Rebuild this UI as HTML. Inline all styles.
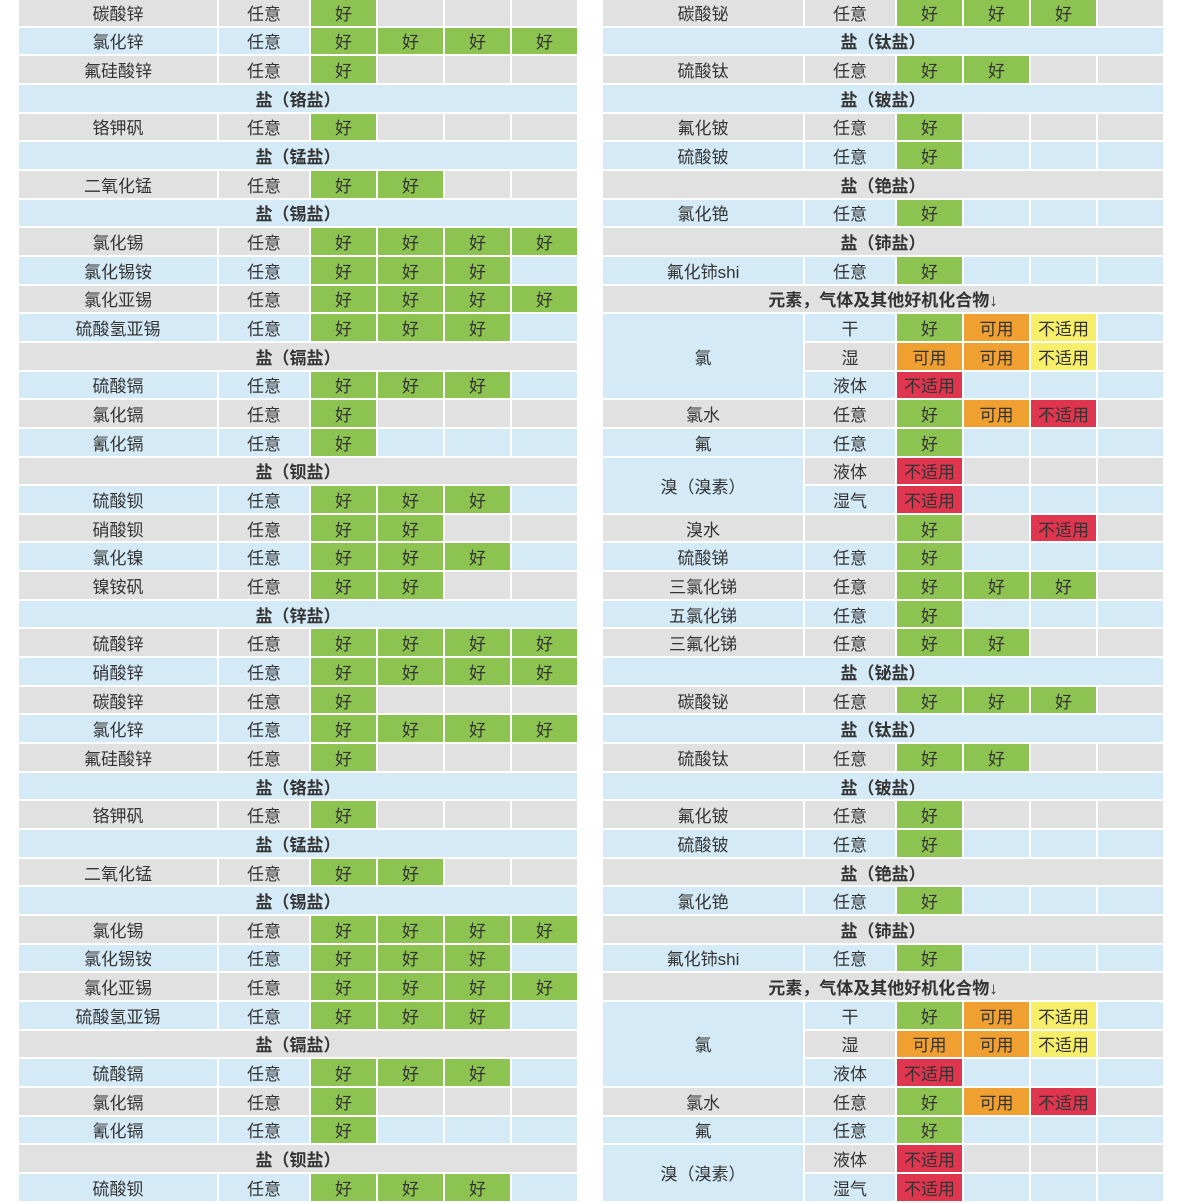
<!DOCTYPE html>
<html><head><meta charset="utf-8"><style>
html,body{margin:0;padding:0;background:#fff;width:1199px;height:1203px;overflow:hidden;position:relative}
.t{position:absolute;top:-1px;display:grid;grid-auto-rows:26.66px;gap:2px;font-family:"Liberation Sans","Noto Sans CJK SC",sans-serif;font-size:17px;color:#333}
#L{left:19px;grid-template-columns:198px 90px 65px 65px 65px 65px}
#R{left:603px;grid-template-columns:200px 90px 65px 65px 65px 65px}
.t div{display:flex;align-items:center;justify-content:center;white-space:nowrap}
.g{background:#e1e1e2}.b{background:#d4eaf7}
.t div.G{background:#8dc350}.t div.O{background:#f0a030}.t div.Y{background:#f7ee6a}.t div.R{background:#e0354e}
.t div.h{grid-column:1/-1;font-weight:bold}
.s3{grid-row:span 3}.s2{grid-row:span 2}
</style></head><body>
<div class="t" id="L">
<div class="g">碳酸锌</div><div class="g">任意</div><div class="G">好</div><div class="g"></div><div class="g"></div><div class="g"></div>
<div class="b">氯化锌</div><div class="b">任意</div><div class="G">好</div><div class="G">好</div><div class="G">好</div><div class="G">好</div>
<div class="g">氟硅酸锌</div><div class="g">任意</div><div class="G">好</div><div class="g"></div><div class="g"></div><div class="g"></div>
<div class="b h">盐（铬盐）</div>
<div class="g">铬钾矾</div><div class="g">任意</div><div class="G">好</div><div class="g"></div><div class="g"></div><div class="g"></div>
<div class="b h">盐（锰盐）</div>
<div class="g">二氧化锰</div><div class="g">任意</div><div class="G">好</div><div class="G">好</div><div class="g"></div><div class="g"></div>
<div class="b h">盐（锡盐）</div>
<div class="g">氯化锡</div><div class="g">任意</div><div class="G">好</div><div class="G">好</div><div class="G">好</div><div class="G">好</div>
<div class="b">氯化锡铵</div><div class="b">任意</div><div class="G">好</div><div class="G">好</div><div class="G">好</div><div class="b"></div>
<div class="g">氯化亚锡</div><div class="g">任意</div><div class="G">好</div><div class="G">好</div><div class="G">好</div><div class="G">好</div>
<div class="b">硫酸氢亚锡</div><div class="b">任意</div><div class="G">好</div><div class="G">好</div><div class="G">好</div><div class="b"></div>
<div class="g h">盐（镉盐）</div>
<div class="b">硫酸镉</div><div class="b">任意</div><div class="G">好</div><div class="G">好</div><div class="G">好</div><div class="b"></div>
<div class="g">氯化镉</div><div class="g">任意</div><div class="G">好</div><div class="g"></div><div class="g"></div><div class="g"></div>
<div class="b">氰化镉</div><div class="b">任意</div><div class="G">好</div><div class="b"></div><div class="b"></div><div class="b"></div>
<div class="g h">盐（钡盐）</div>
<div class="b">硫酸钡</div><div class="b">任意</div><div class="G">好</div><div class="G">好</div><div class="G">好</div><div class="b"></div>
<div class="g">硝酸钡</div><div class="g">任意</div><div class="G">好</div><div class="G">好</div><div class="g"></div><div class="g"></div>
<div class="b">氯化镍</div><div class="b">任意</div><div class="G">好</div><div class="G">好</div><div class="G">好</div><div class="b"></div>
<div class="g">镍铵矾</div><div class="g">任意</div><div class="G">好</div><div class="G">好</div><div class="g"></div><div class="g"></div>
<div class="b h">盐（锌盐）</div>
<div class="g">硫酸锌</div><div class="g">任意</div><div class="G">好</div><div class="G">好</div><div class="G">好</div><div class="G">好</div>
<div class="b">硝酸锌</div><div class="b">任意</div><div class="G">好</div><div class="G">好</div><div class="G">好</div><div class="G">好</div>
<div class="g">碳酸锌</div><div class="g">任意</div><div class="G">好</div><div class="g"></div><div class="g"></div><div class="g"></div>
<div class="b">氯化锌</div><div class="b">任意</div><div class="G">好</div><div class="G">好</div><div class="G">好</div><div class="G">好</div>
<div class="g">氟硅酸锌</div><div class="g">任意</div><div class="G">好</div><div class="g"></div><div class="g"></div><div class="g"></div>
<div class="b h">盐（铬盐）</div>
<div class="g">铬钾矾</div><div class="g">任意</div><div class="G">好</div><div class="g"></div><div class="g"></div><div class="g"></div>
<div class="b h">盐（锰盐）</div>
<div class="g">二氧化锰</div><div class="g">任意</div><div class="G">好</div><div class="G">好</div><div class="g"></div><div class="g"></div>
<div class="b h">盐（锡盐）</div>
<div class="g">氯化锡</div><div class="g">任意</div><div class="G">好</div><div class="G">好</div><div class="G">好</div><div class="G">好</div>
<div class="b">氯化锡铵</div><div class="b">任意</div><div class="G">好</div><div class="G">好</div><div class="G">好</div><div class="b"></div>
<div class="g">氯化亚锡</div><div class="g">任意</div><div class="G">好</div><div class="G">好</div><div class="G">好</div><div class="G">好</div>
<div class="b">硫酸氢亚锡</div><div class="b">任意</div><div class="G">好</div><div class="G">好</div><div class="G">好</div><div class="b"></div>
<div class="g h">盐（镉盐）</div>
<div class="b">硫酸镉</div><div class="b">任意</div><div class="G">好</div><div class="G">好</div><div class="G">好</div><div class="b"></div>
<div class="g">氯化镉</div><div class="g">任意</div><div class="G">好</div><div class="g"></div><div class="g"></div><div class="g"></div>
<div class="b">氰化镉</div><div class="b">任意</div><div class="G">好</div><div class="b"></div><div class="b"></div><div class="b"></div>
<div class="g h">盐（钡盐）</div>
<div class="b">硫酸钡</div><div class="b">任意</div><div class="G">好</div><div class="G">好</div><div class="G">好</div><div class="b"></div>
</div>
<div class="t" id="R">
<div class="g">碳酸铋</div><div class="g">任意</div><div class="G">好</div><div class="G">好</div><div class="G">好</div><div class="g"></div>
<div class="b h">盐（钛盐）</div>
<div class="g">硫酸钛</div><div class="g">任意</div><div class="G">好</div><div class="G">好</div><div class="g"></div><div class="g"></div>
<div class="b h">盐（铍盐）</div>
<div class="g">氟化铍</div><div class="g">任意</div><div class="G">好</div><div class="g"></div><div class="g"></div><div class="g"></div>
<div class="b">硫酸铍</div><div class="b">任意</div><div class="G">好</div><div class="b"></div><div class="b"></div><div class="b"></div>
<div class="g h">盐（铯盐）</div>
<div class="b">氯化铯</div><div class="b">任意</div><div class="G">好</div><div class="b"></div><div class="b"></div><div class="b"></div>
<div class="g h">盐（铈盐）</div>
<div class="b">氟化铈shi</div><div class="b">任意</div><div class="G">好</div><div class="b"></div><div class="b"></div><div class="b"></div>
<div class="g h">元素，气体及其他好机化合物↓</div>
<div class="b s3">氯</div><div class="b">干</div><div class="G">好</div><div class="O">可用</div><div class="Y">不适用</div><div class="b"></div>
<div class="g">湿</div><div class="O">可用</div><div class="O">可用</div><div class="Y">不适用</div><div class="g"></div>
<div class="b">液体</div><div class="R">不适用</div><div class="b"></div><div class="b"></div><div class="b"></div>
<div class="g">氯水</div><div class="g">任意</div><div class="G">好</div><div class="O">可用</div><div class="R">不适用</div><div class="g"></div>
<div class="b">氟</div><div class="b">任意</div><div class="G">好</div><div class="b"></div><div class="b"></div><div class="b"></div>
<div class="b s2">溴（溴素）</div><div class="g">液体</div><div class="R">不适用</div><div class="g"></div><div class="g"></div><div class="g"></div>
<div class="b">湿气</div><div class="R">不适用</div><div class="b"></div><div class="b"></div><div class="b"></div>
<div class="g">溴水</div><div class="g"></div><div class="G">好</div><div class="g"></div><div class="R">不适用</div><div class="g"></div>
<div class="b">硫酸锑</div><div class="b">任意</div><div class="G">好</div><div class="b"></div><div class="b"></div><div class="b"></div>
<div class="g">三氯化锑</div><div class="g">任意</div><div class="G">好</div><div class="G">好</div><div class="G">好</div><div class="g"></div>
<div class="b">五氯化锑</div><div class="b">任意</div><div class="G">好</div><div class="b"></div><div class="b"></div><div class="b"></div>
<div class="g">三氟化锑</div><div class="g">任意</div><div class="G">好</div><div class="G">好</div><div class="g"></div><div class="g"></div>
<div class="b h">盐（铋盐）</div>
<div class="g">碳酸铋</div><div class="g">任意</div><div class="G">好</div><div class="G">好</div><div class="G">好</div><div class="g"></div>
<div class="b h">盐（钛盐）</div>
<div class="g">硫酸钛</div><div class="g">任意</div><div class="G">好</div><div class="G">好</div><div class="g"></div><div class="g"></div>
<div class="b h">盐（铍盐）</div>
<div class="g">氟化铍</div><div class="g">任意</div><div class="G">好</div><div class="g"></div><div class="g"></div><div class="g"></div>
<div class="b">硫酸铍</div><div class="b">任意</div><div class="G">好</div><div class="b"></div><div class="b"></div><div class="b"></div>
<div class="g h">盐（铯盐）</div>
<div class="b">氯化铯</div><div class="b">任意</div><div class="G">好</div><div class="b"></div><div class="b"></div><div class="b"></div>
<div class="g h">盐（铈盐）</div>
<div class="b">氟化铈shi</div><div class="b">任意</div><div class="G">好</div><div class="b"></div><div class="b"></div><div class="b"></div>
<div class="g h">元素，气体及其他好机化合物↓</div>
<div class="b s3">氯</div><div class="b">干</div><div class="G">好</div><div class="O">可用</div><div class="Y">不适用</div><div class="b"></div>
<div class="g">湿</div><div class="O">可用</div><div class="O">可用</div><div class="Y">不适用</div><div class="g"></div>
<div class="b">液体</div><div class="R">不适用</div><div class="b"></div><div class="b"></div><div class="b"></div>
<div class="g">氯水</div><div class="g">任意</div><div class="G">好</div><div class="O">可用</div><div class="R">不适用</div><div class="g"></div>
<div class="b">氟</div><div class="b">任意</div><div class="G">好</div><div class="b"></div><div class="b"></div><div class="b"></div>
<div class="b s2">溴（溴素）</div><div class="g">液体</div><div class="R">不适用</div><div class="g"></div><div class="g"></div><div class="g"></div>
<div class="b">湿气</div><div class="R">不适用</div><div class="b"></div><div class="b"></div><div class="b"></div>
</div>
</body></html>
